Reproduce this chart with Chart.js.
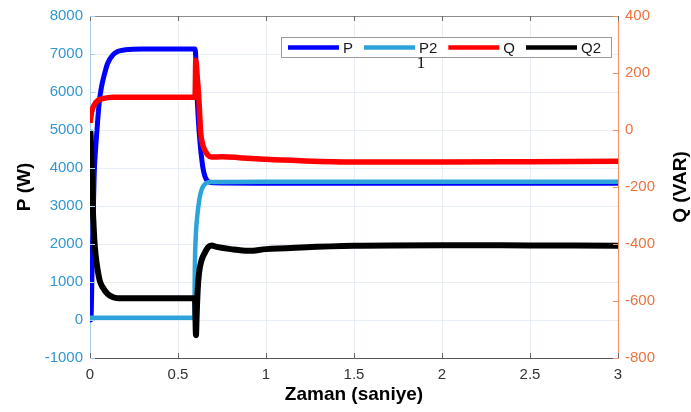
<!DOCTYPE html>
<html>
<head>
<meta charset="utf-8">
<script src="https://cdn.jsdelivr.net/npm/chart.js@4.4.1/dist/chart.umd.min.js"></script>
<style>
  html, body { margin: 0; padding: 0; background: #fff; }
  #wrap { width: 691px; height: 412px; }
</style>
</head>
<body>
<div id="wrap"><canvas id="chart" width="691" height="412"></canvas></div>
<script>
// ─── Data ─────────────────────────────────────────────────────────────────────

const X_TICKS = [0, 0.5, 1, 1.5, 2, 2.5, 3];
const P_TICKS = [-1000, 0, 1000, 2000, 3000, 4000, 5000, 6000, 7000, 8000];
const Q_TICKS = [-800, -600, -400, -200, 0, 200, 400];

// P (W), left axis
const P_T = [0, 0.005, 0.012, 0.018, 0.024, 0.031, 0.038, 0.053, 0.066, 0.081, 0.1, 0.129, 0.16, 0.2, 0.3,
             0.597, 0.61, 0.621, 0.64, 0.653, 0.67, 0.7, 1.0, 3.0];
const P_V = [0, 0, 1400, 2700, 3860, 4450, 4900, 5750, 6150, 6450, 6750, 6970, 7070, 7110, 7130,
             7130, 5750, 4900, 4050, 3780, 3650, 3610, 3600, 3600];

// P2 (W), left axis
const P2_T = [0, 0.593, 0.596, 0.602, 0.611, 0.621, 0.632, 0.644, 0.66, 0.68, 1.0, 3.0];
const P2_V = [60, 60, 1450, 2300, 2800, 3160, 3400, 3525, 3600, 3630, 3640, 3640];

// Q (VAR), right axis
const Q_T = [0, 0.01, 0.024, 0.045, 0.072, 0.13, 0.597, 0.601, 0.61, 0.619, 0.629, 0.64, 0.653, 0.67, 0.69,
             0.75, 0.85, 1.0, 1.2, 1.5, 2.0, 2.5, 3.0];
const Q_V = [25, 65, 88, 104, 110, 115, 115, 245, 180, 103, -10, -50, -72, -88, -95,
             -94, -97, -103, -108, -112, -112, -111, -110];

// Q2 (VAR), right axis
const Q2_T = [0, 0.003, 0.008, 0.012, 0.015, 0.02, 0.024, 0.032, 0.044, 0.056, 0.072, 0.1, 0.128, 0.16,
              0.587, 0.597, 0.602, 0.606, 0.612, 0.62, 0.635, 0.653, 0.67, 0.69, 0.72, 0.8, 0.9, 1.0,
              1.2, 1.5, 2.0, 2.5, 3.0];
const Q2_V = [0, -10, -100, -190, -262, -330, -379, -440, -493, -530, -552, -575, -586, -590,
              -590, -600, -720, -650, -560, -500, -455, -430, -412, -405, -410, -418, -424, -418,
              -412, -406, -404, -405, -406];

// ─── Theme ────────────────────────────────────────────────────────────────────

const FONT      = "'Liberation Sans', Arial, sans-serif";
const P_COLOR   = '#3396d3';
const P_LINE    = '#a9cfeb';
const Q_COLOR   = '#ea7340';
const Q_LINE    = '#ee8e62';
const GRID      = '#e6edf4';

const zip = (ts, vs) => ts.map((t, i) => ({ x: t, y: vs[i] }));
const plain = v => String(v);   // MATLAB-style labels: 8000, 0.5, 1

function series(label, ts, vs, color, width, axis, order) {
  return {
    label, data: zip(ts, vs), yAxisID: axis, order,
    borderColor: color, backgroundColor: color, borderWidth: width,
    pointRadius: 0, fill: false, cubicInterpolationMode: 'monotone',
  };
}

// ─── Extra drawing: box, inner ticks, right title, legend ────────────────────

const decor = {
  id: 'decor',
  afterDraw(chart) {
    const { ctx, chartArea: a, scales } = chart;
    ctx.save();

    // top edge of the axes box
    ctx.lineWidth = 1;
    ctx.strokeStyle = '#8c8c8c';
    ctx.beginPath();
    ctx.moveTo(a.left, a.top + 0.5); ctx.lineTo(a.right, a.top + 0.5);
    ctx.stroke();

    // inner tick marks
    ctx.beginPath();
    X_TICKS.forEach(v => {
      const px = Math.round(scales.x.getPixelForValue(v)) + 0.5;
      ctx.moveTo(px, a.bottom); ctx.lineTo(px, a.bottom - 5);
      ctx.moveTo(px, a.top);    ctx.lineTo(px, a.top + 5);
    });
    ctx.strokeStyle = '#6a6a6a';
    ctx.stroke();

    ctx.beginPath();
    P_TICKS.forEach(v => {
      const py = Math.round(scales.y.getPixelForValue(v)) + 0.5;
      ctx.moveTo(a.left, py); ctx.lineTo(a.left + 5, py);
    });
    ctx.strokeStyle = P_LINE;
    ctx.stroke();

    ctx.beginPath();
    Q_TICKS.forEach(v => {
      const py = Math.round(scales.y2.getPixelForValue(v)) + 0.5;
      ctx.moveTo(a.right, py); ctx.lineTo(a.right - 5, py);
    });
    ctx.strokeStyle = Q_LINE;
    ctx.stroke();

    // right axis title, reading bottom to top like the left one
    ctx.save();
    ctx.translate(a.right + 63, (a.top + a.bottom) / 2);
    ctx.rotate(-Math.PI / 2);
    ctx.font = `bold 19px ${FONT}`;
    ctx.fillStyle = '#000';
    ctx.textAlign = 'center';
    ctx.textBaseline = 'middle';
    ctx.fillText('Q (VAR)', 0, 0);
    ctx.restore();

    // legend box, top right inside the plot
    ctx.font = `15px ${FONT}`;
    const items = chart.data.datasets;
    const lineLen = 51, gap = 4, after = 11, padL = 7;
    let w = padL;
    items.forEach(d => { w += lineLen + gap + ctx.measureText(d.label).width + after; });
    const boxR = a.right - 7, boxT = a.top + 21, boxH = 20;
    const boxL = boxR - w + 1;
    ctx.fillStyle = '#fff';
    ctx.fillRect(boxL, boxT, boxR - boxL, boxH);
    ctx.strokeStyle = '#9a9a9a';
    ctx.strokeRect(Math.round(boxL) + 0.5, boxT + 0.5, Math.round(boxR - boxL), boxH);

    let x = boxL + padL;
    const cy = boxT + boxH / 2 + 0.5;
    ctx.textAlign = 'left';
    ctx.textBaseline = 'middle';
    items.forEach(d => {
      ctx.strokeStyle = d.borderColor;
      ctx.lineWidth = 4.5;
      ctx.beginPath();
      ctx.moveTo(x, cy); ctx.lineTo(x + lineLen, cy);
      ctx.stroke();
      ctx.fillStyle = '#1a1a1a';
      ctx.fillText(d.label, x + lineLen + gap, cy + 1);
      x += lineLen + gap + ctx.measureText(d.label).width + after;
    });

    // stray "1" under the legend
    ctx.font = `17px 'Liberation Serif', 'Times New Roman', serif`;
    ctx.fillStyle = '#111';
    ctx.textAlign = 'center';
    ctx.fillText('1', scales.x.getPixelForValue(1.88), boxT + boxH + 7);

    ctx.restore();
  },
};

// ─── Chart ────────────────────────────────────────────────────────────────────

new Chart(document.getElementById('chart'), {
  type: 'line',
  data: {
    datasets: [
      series('P',  P_T,  P_V,  '#0000ff', 5,   'y',  4),
      series('P2', P2_T, P2_V, '#2ea2da', 4.5, 'y',  3),
      series('Q',  Q_T,  Q_V,  '#ff0000', 5.5, 'y2', 2),
      series('Q2', Q2_T, Q2_V, '#000000', 6,   'y2', 1),
    ],
  },
  options: {
    responsive: false,
    animation: false,
    layout: { padding: { top: 10, left: 0, right: 0, bottom: 0 } },
    plugins: { legend: { display: false }, tooltip: { enabled: false } },
    scales: {
      x: {
        type: 'linear', min: 0, max: 3,
        afterBuildTicks: s => { s.ticks = X_TICKS.map(v => ({ value: v })); },
        afterFit: s => { s.height = 54; },
        ticks: { color: '#333', font: { size: 15, family: FONT }, padding: 8, maxRotation: 0, callback: plain },
        grid: { color: GRID, drawTicks: false },
        border: { color: '#555', width: 1 },
        title: { display: true, text: 'Zaman (saniye)', color: '#000',
                 font: { size: 19, weight: 'bold', family: FONT }, padding: { top: 0, bottom: 6 } },
      },
      y: {
        position: 'left', min: -1000, max: 8000,
        afterBuildTicks: s => { s.ticks = P_TICKS.map(v => ({ value: v })); },
        afterFit: s => { s.width = 90; },
        ticks: { color: P_COLOR, font: { size: 15, family: FONT }, padding: 7, callback: plain },
        grid: { color: GRID, drawTicks: false },
        border: { color: P_LINE, width: 1 },
        title: { display: true, text: 'P (W)', color: '#000',
                 font: { size: 19, weight: 'bold', family: FONT }, padding: { top: 13, bottom: 0 } },
      },
      y2: {
        position: 'right', min: -800, max: 400,
        afterBuildTicks: s => { s.ticks = Q_TICKS.map(v => ({ value: v })); },
        afterFit: s => { s.width = 73; },
        ticks: { color: Q_COLOR, font: { size: 15, family: FONT }, padding: 7, callback: plain },
        grid: { display: false, drawTicks: false },
        border: { color: Q_LINE, width: 1 },
      },
    },
  },
  plugins: [decor],
});
</script>
</body>
</html>
